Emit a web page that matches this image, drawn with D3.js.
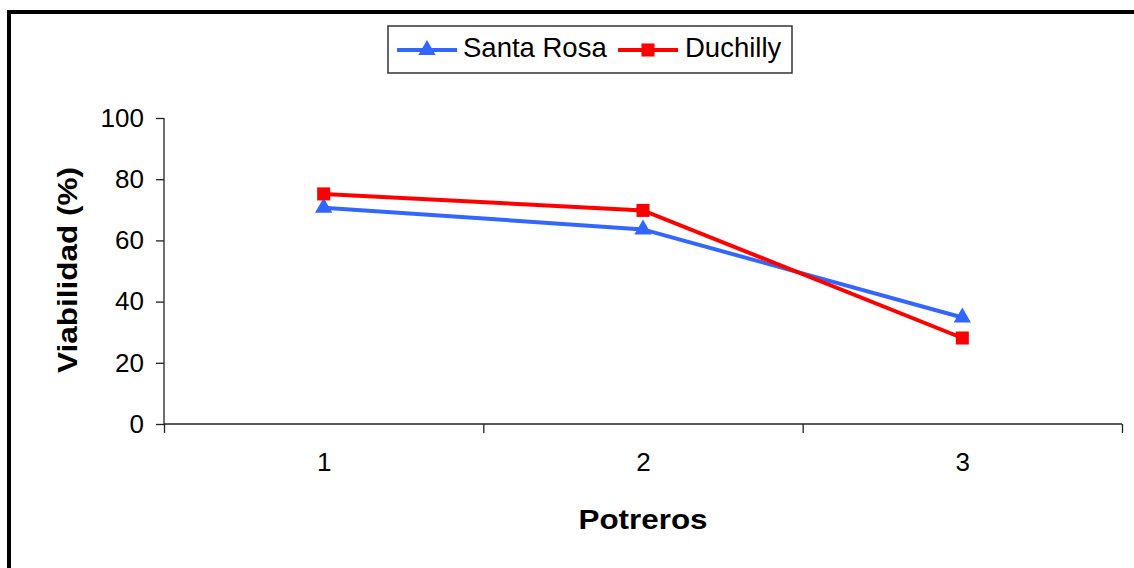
<!DOCTYPE html>
<html>
<head>
<meta charset="utf-8">
<script src="https://cdn.jsdelivr.net/npm/d3@7"></script>
<style>
  html, body { margin: 0; padding: 0; background: #fff; }
  svg { display: block; }
  text { font-family: "Liberation Sans", Arial, sans-serif; fill: #000; }
</style>
</head>
<body>
<svg id="chart" width="1134" height="568"></svg>
<script>
// Viability per paddock for two cultivars
const potreros = [1, 2, 3];
const santaRosa = [70.7, 63.6, 34.8];
const duchilly = [75.2, 69.8, 28.1];
const yTicks = [0, 20, 40, 60, 80, 100];
const seriesNames = ["Santa Rosa", "Duchilly"];
const seriesColors = ["#3366FF", "#FF0000"];

const svg = d3.select("#chart");

// outer frame (runs past the right and bottom edges)
svg.append("rect")
  .attr("x", 9).attr("y", 12)
  .attr("width", 1200).attr("height", 600)
  .attr("fill", "none").attr("stroke", "#000").attr("stroke-width", 4);

const plot = { left: 164, right: 1122, top: 118, bottom: 424 };

const x = d3.scaleLinear().domain([0.5, 3.5]).range([plot.left, plot.right]);
const y = d3.scaleLinear().domain([0, 100]).range([plot.bottom, plot.top]);

// y axis
const yAxis = svg.append("g")
  .attr("transform", `translate(${plot.left},0)`)
  .call(d3.axisLeft(y).tickValues(yTicks).tickSize(8).tickPadding(12).tickFormat(d3.format("d")));
yAxis.selectAll("text").style("font-size", "26px").style("font-family", "Liberation Sans, Arial, sans-serif");

// x axis: boundary ticks between categories
const xAxis = svg.append("g")
  .attr("transform", `translate(0,${plot.bottom})`)
  .call(d3.axisBottom(x).tickValues(d3.range(0.5, 3.6, 1)).tickSize(9).tickFormat(""));

// x category labels
const xLabels = svg.append("g")
  .attr("transform", `translate(0,${plot.bottom})`)
  .call(d3.axisBottom(x).tickValues(potreros).tickSize(0).tickPadding(29).tickFormat(d3.format("d")));
xLabels.select(".domain").remove();
xLabels.selectAll("text").style("font-size", "26px").style("font-family", "Liberation Sans, Arial, sans-serif");

[yAxis, xAxis].forEach(g => {
  g.select(".domain").attr("stroke", "#222").attr("stroke-width", 1.3);
  g.selectAll(".tick line").attr("stroke", "#222").attr("stroke-width", 1.3);
});
// plain axis lines without end caps
yAxis.select(".domain").attr("d", `M0,${plot.top}V${plot.bottom}`);
xAxis.select(".domain").attr("d", `M${plot.left},0H${plot.right}`);

// axis titles
svg.append("text")
  .attr("x", 643).attr("y", 529)
  .attr("text-anchor", "middle")
  .attr("font-weight", "bold").attr("font-size", 27)
  .attr("textLength", 129).attr("lengthAdjust", "spacingAndGlyphs")
  .text("Potreros");

svg.append("text")
  .attr("transform", "translate(77,270) rotate(-90)")
  .attr("text-anchor", "middle")
  .attr("font-weight", "bold").attr("font-size", 27)
  .attr("textLength", 206).attr("lengthAdjust", "spacingAndGlyphs")
  .text("Viabilidad (%)");

const series = [
  { name: seriesNames[0], values: santaRosa, color: seriesColors[0], symbol: d3.symbolTriangle, size: 130 },
  { name: seriesNames[1], values: duchilly, color: seriesColors[1], symbol: d3.symbolSquare, size: 170 }
];

const line = d3.line().x((d, i) => x(potreros[i])).y(d => y(d));

series.forEach(s => {
  svg.append("path")
    .attr("d", line(s.values))
    .attr("fill", "none").attr("stroke", s.color).attr("stroke-width", 4);
  svg.selectAll(null).data(s.values).enter().append("path")
    .attr("d", d3.symbol().type(s.symbol).size(s.size))
    .attr("transform", (d, i) => `translate(${x(potreros[i])},${y(d)})`)
    .attr("fill", s.color);
});

// legend
const legend = svg.append("g");
legend.append("rect")
  .attr("x", 388).attr("y", 26).attr("width", 404).attr("height", 47)
  .attr("fill", "#fff").attr("stroke", "#333").attr("stroke-width", 1.5);

const legendItems = [
  { x0: 397, x1: 457, tx: 463 },
  { x0: 618, x1: 678, tx: 685 }
];
series.forEach((s, i) => {
  const it = legendItems[i];
  legend.append("line")
    .attr("x1", it.x0).attr("x2", it.x1).attr("y1", 50).attr("y2", 50)
    .attr("stroke", s.color).attr("stroke-width", 4);
  legend.append("path")
    .attr("d", d3.symbol().type(s.symbol).size(s.size)())
    .attr("transform", `translate(${(it.x0 + it.x1) / 2},50)`)
    .attr("fill", s.color);
  legend.append("text")
    .attr("x", it.tx).attr("y", 57)
    .attr("font-size", 27.5)
    .text(s.name);
});
</script>
</body>
</html>
